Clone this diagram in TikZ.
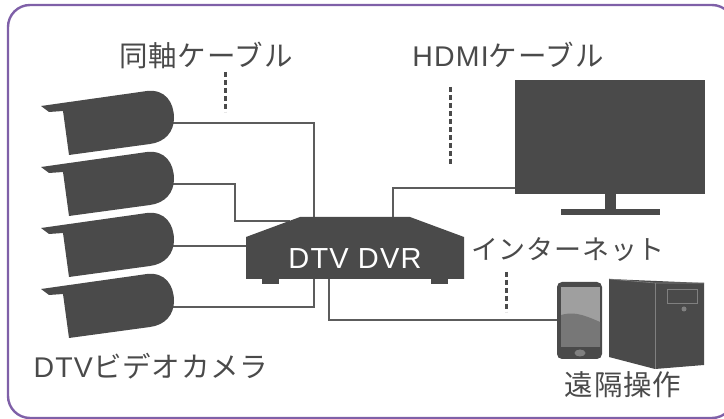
\documentclass[tikz,border=0pt]{standalone}
\usepackage{fontspec}
\setmainfont[LetterSpace=4]{Liberation Sans}
\newfontfamily\cjk[LetterSpace=3]{Noto Sans CJK JP}
\definecolor{device}{HTML}{4A4A4A}
\definecolor{frameline}{HTML}{7F60A8}
\tikzset{
  wire/.style={draw=device!90,line width=1.4pt},
  hint/.style={draw=device,line width=3pt,dash pattern=on 5pt off 3pt},
  caption/.style={text=device,font=\fontsize{28.5}{32}\selectfont,inner sep=0pt},
  foot/.style={fill=device,minimum width=17pt,minimum height=5pt,inner sep=0pt},
}
\begin{document}
\begin{tikzpicture}[x=1pt,y=-1pt]
  \useasboundingbox (0,0) rectangle (724,419);
  \clip (0,0) rectangle (724,419);
  \draw[frameline,line width=2.4pt,rounded corners=22pt] (8,5) rectangle (734,418);
  % wire ends
  \coordinate (cam1) at (170,123);
  \coordinate (cam2) at (170,184);
  \coordinate (cam3) at (170,246);
  \coordinate (cam4) at (170,307);
  \coordinate (bend) at (235,221);
  \coordinate (dvrin1) at (314,220);
  \coordinate (dvrin2) at (290,221);
  \coordinate (dvrin3) at (250,246);
  \coordinate (dvrin4) at (314,276);
  \coordinate (dvrout) at (329,276);
  \coordinate (dvrhdmi) at (393,220);
  \coordinate (tv) at (520,188);
  \coordinate (phone) at (560,320);
  \begin{scope}[wire]
    \draw (cam1) -| (dvrin1);
    \draw (cam2) -| (bend) -- (dvrin2);
    \draw (cam3) -- (dvrin3);
    \draw (cam4) -| (dvrin4);
    \draw (dvrout) |- (phone);
    \draw (dvrhdmi) |- (tv);
  \end{scope}
  % cameras
  \foreach \n/\dy in {1/0,2/61,3/122,4/183}{
    \fill[device,yshift=-\dy pt] (41,106) -- (147,91)
      .. controls (165,89) and (174,102) .. (174,118)
      .. controls (174,132) and (165,142) .. (150,144)
      -- (69,155) -- (63,111) -- (49,112) -- cycle;
  }
  % recorder
  \fill[device] (246,237) -- (300,217) -- (410,217) -- (464,237) -- (464,279) -- (246,279) -- cycle;
  \node[foot] (footl) at (270.5,281.5) {};
  \node[foot] (footr) at (439.5,281.5) {};
  \node[text=white,font=\fontsize{29}{32}\selectfont,inner sep=0pt] (dvr) at (355,259) {DTV DVR};
  % monitor
  \fill[device] (515,80) rectangle (705,194);
  \fill[device] (605,194) rectangle (616,209);
  \fill[device] (561,209) rectangle (660,215);
  % phone
  \fill[device,rounded corners=5pt] (557,282) rectangle (602,359);
  \fill[gray!75] (561,287) rectangle (600,347);
  \fill[device!75] (561,315) .. controls (572,312) and (580,313) .. (600,322) -- (600,347) -- (561,347) -- cycle;
  \fill[gray] (580,353) ellipse (5.5pt and 3.5pt);
  % tower
  \fill[device] (609,279) -- (704,283) -- (704,365) -- (655,369) -- (609,357) -- cycle;
  \draw[gray,line width=0.6pt] (609,279) -- (655,283) -- (704,283);
  \draw[gray,line width=0.6pt] (655,283) -- (655,369);
  \draw[gray,line width=0.8pt] (667,289) rectangle (697,303);
  \fill[gray] (684,309) circle (2.5pt);
  % dashes
  \coordinate (h1a) at (225,72);
  \coordinate (h1b) at (225,112);
  \coordinate (h2a) at (450,87);
  \coordinate (h2b) at (450,165);
  \coordinate (h3a) at (506,272);
  \coordinate (h3b) at (506,312);
  \draw[hint] (h1a) -- (h1b);
  \draw[hint] (h2a) -- (h2b);
  \draw[hint] (h3a) -- (h3b);
  % captions
  \node[caption] (coax) at (206,55) {\cjk 同軸ケーブル};
  \node[caption] (hdmi) at (508,55) {HDMI{\cjk ケーブル}};
  \node[caption,font=\fontsize{27}{30}\selectfont] (net) at (568,250) {\cjk インターネット};
  \node[caption] (cams) at (151,366) {DTV{\cjk ビデオカメラ}};
  \node[caption] (remote) at (623,385) {\cjk 遠隔操作};
\end{tikzpicture}
\end{document}
